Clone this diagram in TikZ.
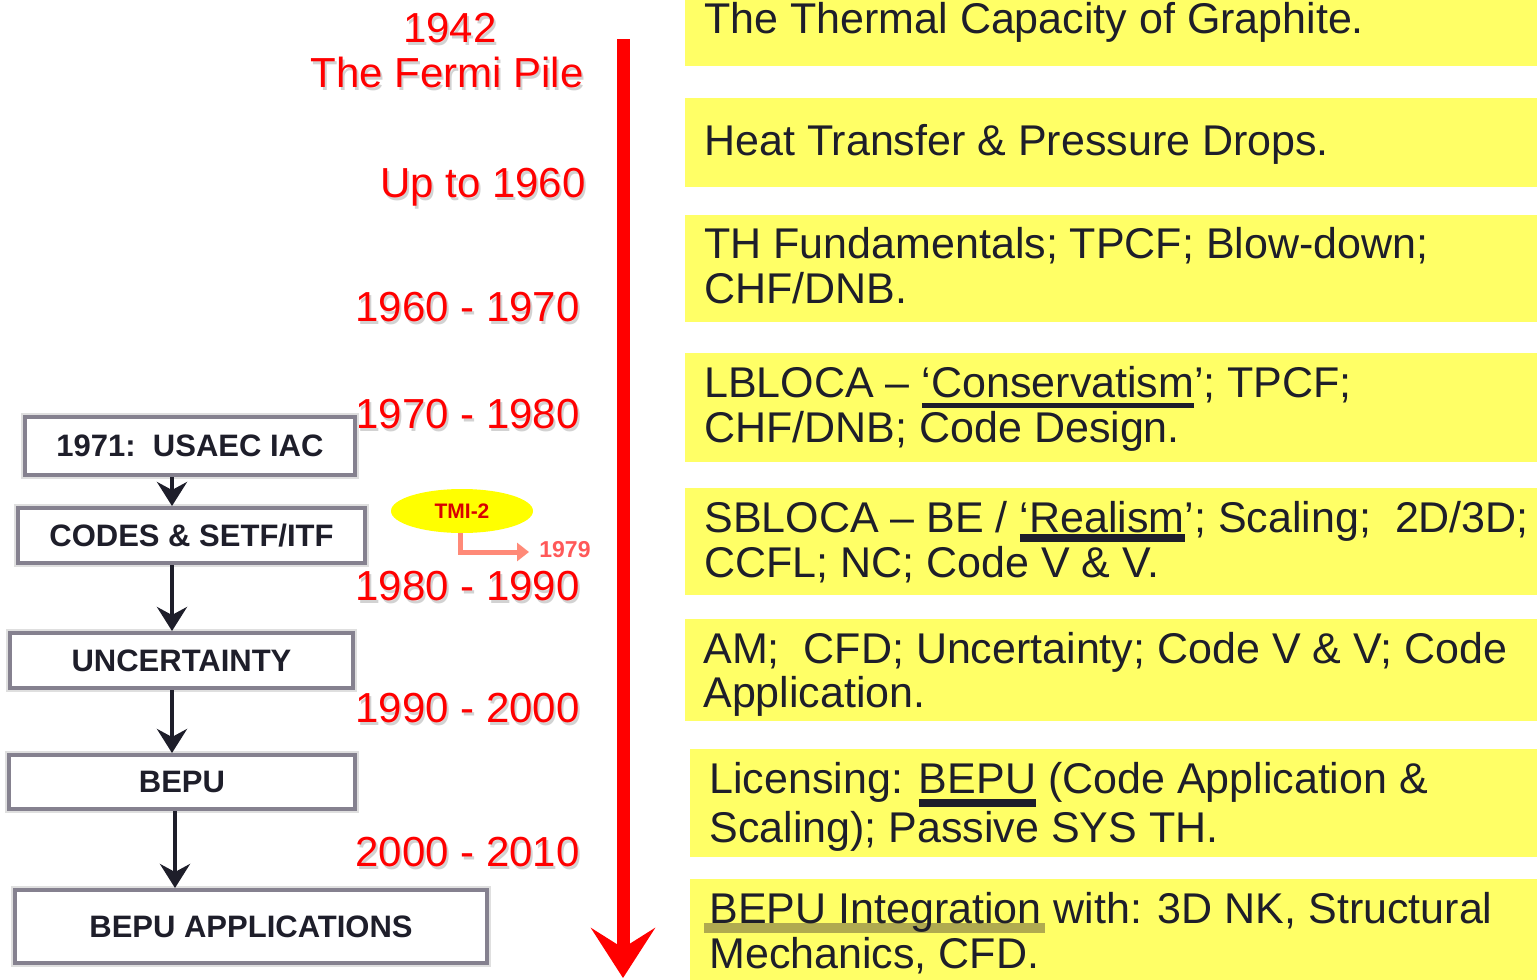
\documentclass[tikz,border=0pt]{standalone}
\usepackage{fontspec}
\setmainfont{Liberation Sans}
\usetikzlibrary{arrows.meta,shapes.geometric}
\definecolor{ybox}{HTML}{FFFF66}
\definecolor{txt}{HTML}{1E1E2A}
\definecolor{bordergray}{HTML}{85818F}
\definecolor{salmon}{HTML}{FF8A78}
\definecolor{hilite}{HTML}{B0AA50}
\definecolor{tmiyellow}{HTML}{FFFF00}
\newsavebox\ulbox
\newcommand\myul[3]{\sbox\ulbox{#3}\rlap{\rule[#1]{\wd\ulbox}{#2}}\usebox\ulbox}
\newcommand\myhl[1]{\sbox\ulbox{#1}\rlap{\hspace{-2.5pt}\textcolor{hilite}{\rule[-5pt]{\dimexpr\wd\ulbox+4pt\relax}{5pt}}}\usebox\ulbox}
\begin{document}
\begin{tikzpicture}[x=0.5pt,y=-0.5pt,
  rtext/.style={anchor=base west, inner sep=0pt, text=txt, font=\fontsize{21.5}{24}\selectfont},
  redlab/.style={inner sep=0pt, text=red, font=\fontsize{21}{21}\selectfont},
  redshadow/.style={inner sep=0pt, text=gray!35, font=\fontsize{21}{21}\selectfont},
  lbox/.style={draw=bordergray, line width=2pt, fill=white, inner sep=0pt,
    preaction={draw=gray!25, line width=4pt},
    font=\bfseries\fontsize{15.5}{16}\selectfont, text=txt},
  flowarrow/.style={draw=txt, line width=2pt, -{Stealth[length=12pt,width=15pt,inset=4pt]}}
]
\useasboundingbox (0,0) rectangle (1537,980);
\fill[white] (0,0) rectangle (1537,980);

% yellow boxes
\foreach \a/\b/\c/\d in {685/0/1537/66, 685/98/1537/187, 685/215/1537/322, 685/353/1537/462,
  685/488/1537/595, 685/619/1537/721, 690/749/1537/857, 690/879/1537/980}
  \fill[ybox] (\a,\b) rectangle (\c,\d);

% right texts
\node[rtext] (t1) at (704,33) {The Thermal Capacity of Graphite.};
\node[rtext] (t2) at (704,155) {Heat Transfer \& Pressure Drops.};
\node[rtext] (t3a) at (704,258) {TH Fundamentals; TPCF; Blow-down;};
\node[rtext] (t3b) at (704,303) {CHF/DNB.};
\node[rtext] (t4a) at (704,397) {LBLOCA – \myul{-5.5pt}{2.5pt}{‘Conservatism}’; TPCF;};
\node[rtext] (t4b) at (704,442) {CHF/DNB; Code Design.};
\node[rtext] (t5a) at (704,532) {SBLOCA – BE / \myul{-5pt}{4pt}{‘Realism}’; Scaling;\ \ 2D/3D;};
\node[rtext] (t5b) at (704,577) {CCFL; NC; Code V \& V.};
\node[rtext] (t6a) at (703,663) {AM;\ \ CFD; Uncertainty; Code V \& V; Code};
\node[rtext] (t6b) at (703,707) {Application.};
\node[rtext] (t7a) at (709,793) {Licensing: \myul{-7pt}{4pt}{BEPU} (Code Application \&};
\node[rtext] (t7b) at (709,842) {Scaling); Passive SYS TH.};
\node[rtext] (t8a) at (709,923) {\myhl{BEPU Integration} with: 3D NK, Structural};
\node[rtext] (t8b) at (709,968) {Mechanics, CFD.};

% timeline arrow
\coordinate (tlstart) at (623,39);
\coordinate (tlend) at (623,978);
\draw[red, line width=6.5pt, -{Stealth[length=25pt,width=32pt,inset=10pt]}] (tlstart) -- (tlend);

% red labels (shadow + text)
\foreach \x/\y/\anc/\t/\n in {450/42/base/1942/l1, 447/87/base/The Fermi Pile/l2,
  586/197/base east/Up to 1960/l3, 580/321/base east/1960 - 1970/l4,
  580/428/base east/1970 - 1980/l5, 580/600/base east/1980 - 1990/l6,
  580/722/base east/1990 - 2000/l7, 580/866/base east/2000 - 2010/l8}{
  \node[redshadow, anchor=\anc] at (\x+2,\y+3) {\t};
  \node[redlab, anchor=\anc] (\n) at (\x,\y) {\t};
}

% left flow boxes
\node[lbox, minimum width=165pt, minimum height=29pt] (A) at (190,446) {1971:\ \ USAEC IAC};
\node[lbox, minimum width=173.5pt, minimum height=27.5pt] (B) at (191.5,535.5) {CODES \& SETF/ITF};
\node[lbox, minimum width=171.5pt, minimum height=27.5pt] (C) at (181.5,660.5) {UNCERTAINTY};
\node[lbox, minimum width=173pt, minimum height=27pt] (D) at (182,782) {BEPU};
\node[lbox, minimum width=236pt, minimum height=36.5pt] (E) at (251,926.5) {BEPU APPLICATIONS};

\coordinate (ax1) at (172,0);
\coordinate (ax2) at (175,0);
\draw[flowarrow] (A.south -| ax1) -- (B.north -| ax1);
\draw[flowarrow] (B.south -| ax1) -- (C.north -| ax1);
\draw[flowarrow] (C.south -| ax1) -- (D.north -| ax1);
\draw[flowarrow] (D.south -| ax2) -- (E.north -| ax2);

% TMI-2
\node[ellipse, fill=tmiyellow, minimum width=71pt, minimum height=22pt, inner sep=0pt,
  text=red!85!black, font=\bfseries\fontsize{10.5}{10.5}\selectfont] (tmi) at (462,511) {TMI-2};
\node[inner sep=0pt, anchor=west, text=red!65, font=\bfseries\fontsize{11.5}{11.5}\selectfont] (y79) at (539,550) {1979};
\coordinate (tmibend) at (460,552);
\draw[salmon, line width=2.5pt, -{Triangle[length=6pt,width=9pt]}]
  (tmi.south -| tmibend) -- (tmibend) -- ([xshift=-5pt]y79.west |- tmibend);
\end{tikzpicture}
\end{document}
